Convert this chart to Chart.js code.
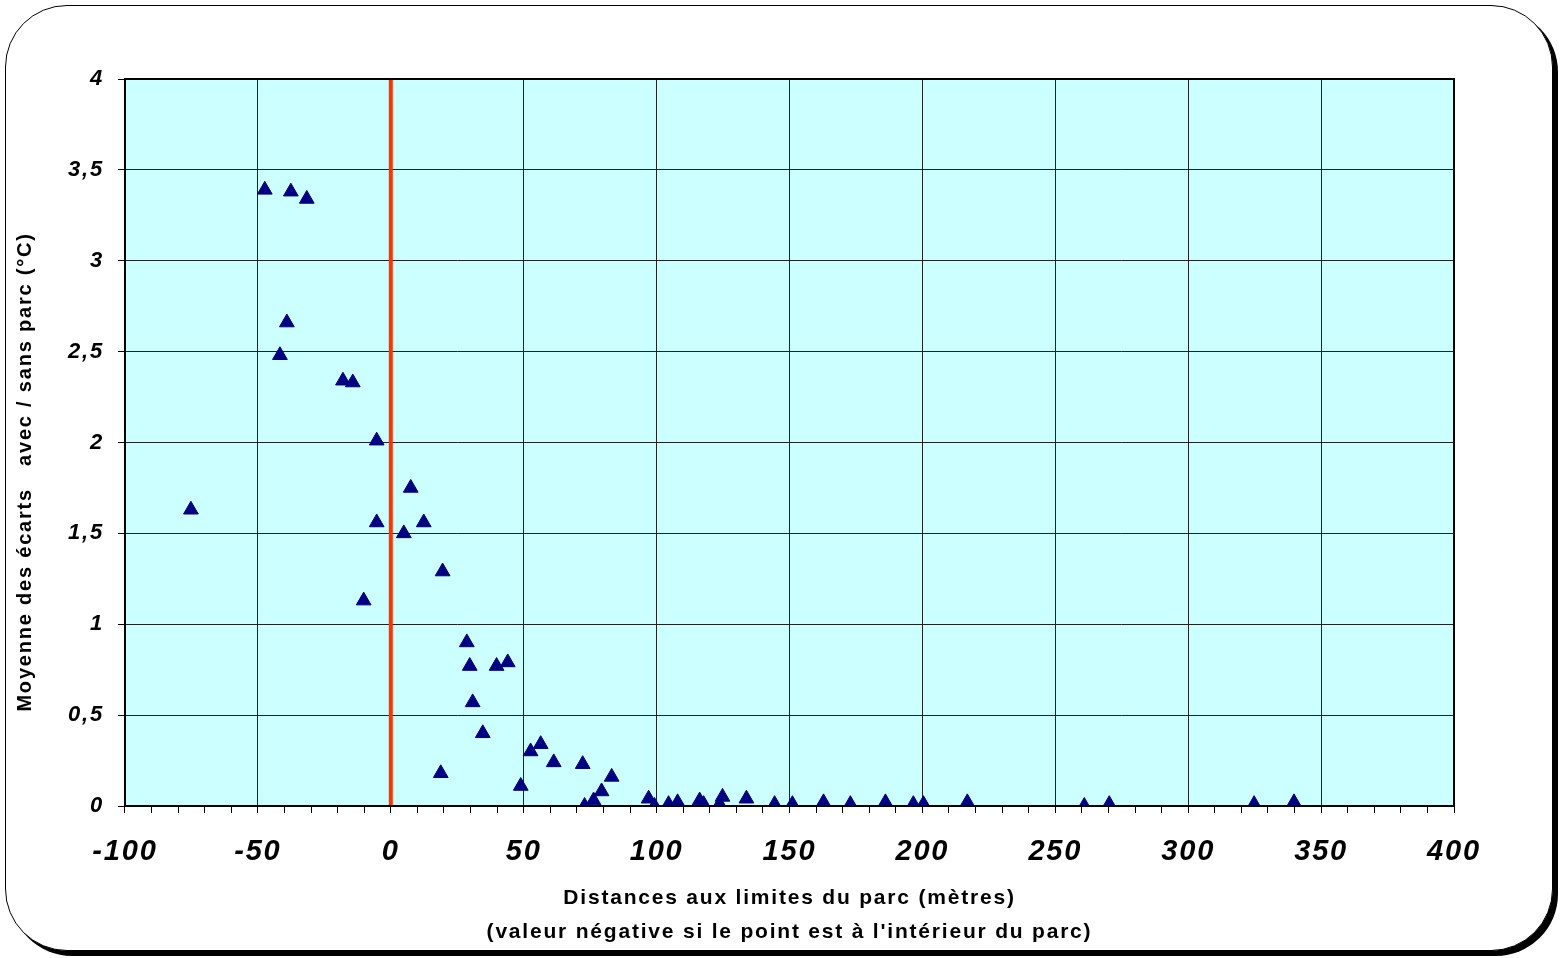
<!DOCTYPE html>
<html>
<head>
<meta charset="utf-8">
<script src="https://cdn.jsdelivr.net/npm/chart.js@4.4.0/dist/chart.umd.min.js"></script>
<style>
	body { margin: 0; background: #fff; }
	#frame {
		position: absolute; left: 5px; top: 5px; width: 1546px; height: 944px;
		border: 1.5px solid #000; border-radius: 62px; background: #fff;
		box-shadow: 5px 5px 0 #000;
	}
	#wrap { position: absolute; left: 0; top: 0; width: 1560px; height: 958px; }
</style>
</head>
<body>
<div id="frame"></div>
<div id="wrap"><canvas id="ecarts_scatter"></canvas></div>
<script>
// distance aux limites du parc (m) / écart moyen (°C)
const distances = [-75.2, -47.4, -37.6, -31.6, -39.1, -41.7, -18, -14.3, -5.3, -5.3, -10.2, 7.5, 4.9, 12.4, 19.5, 18.8,
	28.6, 29.7, 30.8, 34.6, 39.8, 44, 48.9, 52.6, 56.4, 61.3, 72.2, 72.9, 76.3, 79.3, 83.1, 97, 99.2, 104.5, 107.9,
	116.2, 117.7, 123.7, 124.8, 133.8, 144.4, 151.1, 162.8, 172.9, 186.1, 196.6, 200.4, 216.9, 260.9, 270.3, 324.8, 339.8];
const ecarts = [1.63, 3.39, 3.38, 3.34, 2.66, 2.48, 2.34, 2.33, 2.01, 1.56, 1.13, 1.75, 1.50, 1.56, 1.29, 0.18,
	0.90, 0.77, 0.57, 0.40, 0.77, 0.79, 0.11, 0.30, 0.34, 0.24, 0.23, 0.00, 0.03, 0.08, 0.16, 0.04, 0.00, 0.01, 0.02,
	0.03, 0.01, 0.01, 0.05, 0.04, 0.01, 0.01, 0.02, 0.01, 0.02, 0.01, 0.01, 0.02, 0.00, 0.01, 0.01, 0.02];
// limite du parc
const limiteX = [0, 0];
const limiteY = [0, 4];

window.ecarts_scatter = () => {
	let chartId = "ecarts_scatter";
	const canvas = document.getElementById(chartId);
	if (canvas == null) return;

	const points = distances.map((d, i) => ({ x: d, y: ecarts[i] }));
	const limite = limiteX.map((d, i) => ({ x: d, y: limiteY[i] }));

	// texte un peu espacé comme dans Excel
	const spacing = {
		id: 'spacing',
		beforeUpdate(chart) { chart.ctx.letterSpacing = '1.8px'; },
		beforeDraw(chart) { chart.ctx.letterSpacing = '1.8px'; }
	};

	const plotBg = {
		id: 'plotBg',
		beforeDraw(chart) {
			const a = chart.chartArea, c = chart.ctx;
			c.save();
			c.fillStyle = '#ccffff';
			c.fillRect(a.left, a.top, a.right - a.left, a.bottom - a.top);
			c.restore();
		},
		afterDraw(chart) {
			const a = chart.chartArea, c = chart.ctx;
			c.save();
			c.strokeStyle = '#000';
			c.lineWidth = 2;
			c.strokeRect(a.left, a.top, a.right - a.left, a.bottom - a.top);
			c.restore();
		}
	};

	const config = {
		type: 'scatter',
		data: {
			datasets: [{
				data: points,
				pointStyle: 'triangle',
				pointRadius: 8.5,
				pointHoverRadius: 8.5,
				backgroundColor: '#000080',
				borderColor: '#000080',
				borderWidth: 1,
				order: 1
			}, {
				data: limite,
				showLine: true,
				borderColor: '#ff3300',
				borderWidth: 4,
				pointRadius: 0,
				order: 2
			}]
		},
		options: {
			responsive: true,
			maintainAspectRatio: false,
			animation: false,
			layout: { padding: { left: 13, top: 79, right: 106, bottom: 9 } },
			scales: {
				x: {
					type: 'linear',
					min: -100,
					max: 400,
					border: { display: false },
					grid: {
						color: (ctx) => (ctx.tick && ctx.tick.value % 50 === 0) ? '#222' : 'rgba(0,0,0,0)',
						tickColor: '#000',
						tickLength: 7,
						lineWidth: 1
					},
					ticks: {
						stepSize: 10,
						autoSkip: false,
						maxRotation: 0,
						padding: 22,
						color: '#000',
						font: { family: 'Liberation Sans, Arial', size: 29, weight: 'bold', style: 'italic' },
						callback: (v) => (v % 50 === 0) ? String(v) : ''
					},
					title: {
						display: true,
						text: ['Distances aux limites du parc (mètres)', "(valeur négative si le point est à l'intérieur du parc)"],
						color: '#000',
						padding: { top: -10, bottom: 0 },
						font: { family: 'Liberation Sans, Arial', size: 21, weight: 'bold', lineHeight: 1.6 }
					}
				},
				y: {
					type: 'linear',
					min: 0,
					max: 4,
					border: { display: false },
					grid: { color: '#222', tickColor: '#000', tickLength: 7, lineWidth: 1 },
					ticks: {
						stepSize: 0.5,
						padding: 14,
						color: '#000',
						font: { family: 'Liberation Sans, Arial', size: 22, weight: 'bold', style: 'italic' },
						callback: (v) => String(v).replace('.', ',')
					},
					title: {
						display: true,
						text: 'Moyenne des écarts   avec / sans parc (°C)\u00a0\u00a0\u00a0\u00a0\u00a0\u00a0\u00a0\u00a0',
						color: '#000',
						padding: { top: 0, bottom: 17 },
						font: { family: 'Liberation Sans, Arial', size: 20, weight: 'bold' }
					}
				}
			},
			plugins: {
				legend: { display: false },
				tooltip: { enabled: false }
			}
		},
		plugins: [spacing, plotBg]
	};

	const chart = new Chart(canvas.getContext('2d'), config);
}

window.ecarts_scatter();
</script>
</body>
</html>
